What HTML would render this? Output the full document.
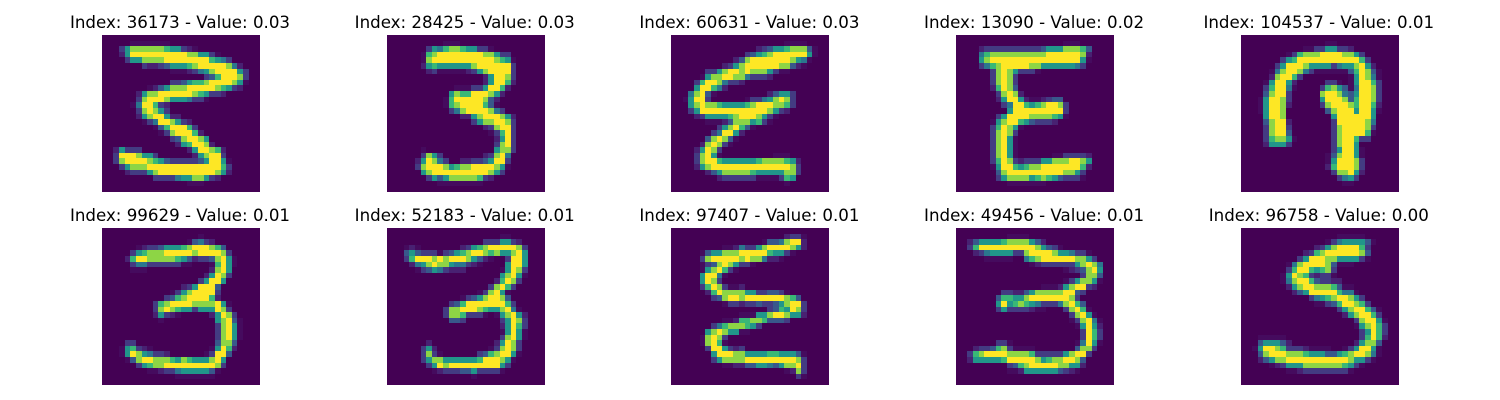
<!DOCTYPE html>
<html lang="en">
<head>
<meta charset="utf-8">
<title>Top samples</title>
<style>
html,body{margin:0;padding:0;background:#fff;width:1500px;height:400px;overflow:hidden}
svg{display:block}
text{font-family:"DejaVu Sans",sans-serif;font-size:16.67px;fill:#000}
</style>
</head>
<body>
<svg id="chart" xmlns="http://www.w3.org/2000/svg" width="1500" height="400" viewBox="0 0 1500 400"></svg>
<script>
const sampleIndices = [36173,28425,60631,13090,104537,99629,52183,97407,49456,96758];
const sampleValues = [0.03,0.03,0.03,0.02,0.01,0.01,0.01,0.01,0.01,0.00];

const pixels36173 = [
[],
[0,0,0,0,0,1,1,1,1,1,1,1],
[0,0,0,3,6,8,8,8,8,8,8,7,6,6,3,2,1],
[0,0,0,2,6,9,9,9,9,9,9,9,9,9,9,8,8,6,6,3,1],
[0,0,0,0,3,6,6,8,8,8,8,9,9,9,9,9,9,9,9,7,6,5,3],
[0,0,0,0,0,0,0,3,2,2,3,4,6,6,6,7,8,9,9,9,9,9,8,5,2],
[0,0,0,0,0,0,0,0,0,0,0,0,1,1,1,2,3,5,6,8,9,9,9,9,6,3],
[0,0,0,0,0,0,0,0,0,0,0,0,0,0,0,0,0,0,3,4,7,9,9,9,8,3],
[0,0,0,0,0,0,0,0,0,0,0,0,3,3,4,6,7,7,8,9,9,9,9,8,6,1],
[0,0,0,0,0,0,0,0,1,2,4,6,8,8,8,9,9,9,9,9,8,7,6,3,2],
[0,0,0,0,0,0,2,6,8,8,9,9,9,9,9,9,8,7,6,3,3,2],
[0,0,0,0,0,0,3,8,9,9,9,8,6,6,6,5,3,3,1],
[0,0,0,0,0,1,5,9,9,7,3,2],
[0,0,0,0,0,0,3,8,9,8,6,3],
[0,0,0,0,0,0,2,6,8,9,9,6,2,2],
[0,0,0,0,0,0,0,1,3,5,9,9,8,6,3,2],
[0,0,0,0,0,0,0,0,0,1,4,7,9,9,9,7,3],
[0,0,0,0,0,0,0,0,0,0,1,3,8,9,9,9,7,2],
[0,0,0,0,0,0,0,0,0,0,0,0,3,4,8,9,9,8,6],
[0,0,0,0,0,0,0,0,0,0,0,0,0,2,6,7,9,9,8,2],
[0,0,2,6,3,3,3,0,0,0,0,0,0,0,0,2,6,9,9,8,7,2],
[0,0,3,9,9,9,8,6,6,3,0,0,0,0,0,0,2,6,8,9,9,3],
[0,0,3,8,9,9,9,9,8,7,6,4,3,3,3,3,3,4,6,9,9,6,1],
[0,0,0,3,6,8,8,8,9,9,9,9,9,9,9,9,9,9,9,9,9,7,3],
[0,0,0,0,2,3,3,3,6,8,9,9,9,9,9,9,9,9,9,9,8,6,2],
[0,0,0,0,0,0,0,0,0,3,3,3,3,5,6,6,8,8,6,3,2],
[0,0,0,0,0,0,0,0,0,0,0,0,0,0,0,1,1,1],
[]
];
const pixels28425 = [
[],
[0,0,0,0,0,0,0,0,0,0,1,1,1],
[0,0,0,0,0,0,0,3,6,5,7,8,8,7,6,6,3,3,1],
[0,0,0,0,0,0,1,7,8,9,9,9,9,9,9,9,9,8,8,6,3,3],
[0,0,0,0,0,0,1,8,9,9,9,9,9,9,9,9,9,9,9,8,7,6,1],
[0,0,0,0,0,0,2,6,7,6,6,6,6,6,6,8,9,9,9,9,9,9,3],
[0,0,0,0,0,0,0,2,3,1,1,1,1,1,2,3,6,8,9,9,9,9,3],
[0,0,0,0,0,0,0,0,0,0,0,0,0,0,0,0,0,2,6,9,9,8,3],
[0,0,0,0,0,0,0,0,0,0,0,0,0,0,0,0,0,2,6,9,9,7,2],
[0,0,0,0,0,0,0,0,0,0,0,0,1,1,1,3,3,6,9,9,7,2],
[0,0,0,0,0,0,0,0,0,0,0,6,8,7,7,9,9,9,8,6,2],
[0,0,0,0,0,0,0,0,0,0,1,7,9,9,9,9,9,8,4,2],
[0,0,0,0,0,0,0,0,0,0,1,7,8,9,9,9,9,7,4,1],
[0,0,0,0,0,0,0,0,0,0,0,3,5,8,9,9,9,9,8,5,3],
[0,0,0,0,0,0,0,0,0,0,0,0,0,2,2,6,8,9,9,9,8,6,2],
[0,0,0,0,0,0,0,0,0,0,0,0,0,0,0,3,6,8,8,9,9,8,3],
[0,0,0,0,0,0,0,0,0,0,0,0,0,0,0,0,0,2,3,8,9,9,3],
[0,0,0,0,0,0,0,0,0,0,0,0,0,0,0,0,0,0,1,3,7,9,3],
[0,0,0,0,0,0,0,0,0,0,0,0,0,0,0,0,0,0,0,2,6,9,3],
[0,0,0,0,0,0,0,0,0,0,0,0,0,0,0,0,0,0,0,3,8,9,3],
[0,0,0,0,0,0,1,0,0,0,0,0,0,0,0,0,0,0,0,6,8,8,3],
[0,0,0,0,0,0,3,8,6,3,0,0,0,0,0,0,0,2,3,8,9,5],
[0,0,0,0,0,2,6,9,8,5,3,0,0,2,2,3,3,4,6,9,9,3],
[0,0,0,0,0,3,8,9,9,9,8,6,7,8,8,9,9,9,9,8,6,1],
[0,0,0,0,0,0,6,8,9,9,9,9,9,9,9,9,9,9,8,6,3],
[0,0,0,0,0,0,0,3,6,4,6,8,8,8,8,8,7,3,2],
[0,0,0,0,0,0,0,0,0,1,1,1,1,1,1,1,1],
[]
];
const pixels60631 = [
[],
[0,0,0,0,0,0,0,0,0,0,0,0,0,0,0,0,0,0,0,0,1,1,1,1],
[0,0,0,0,0,0,0,0,0,0,0,0,0,0,0,2,3,4,6,6,7,8,8,8,4,1],
[0,0,0,0,0,0,0,0,0,0,0,0,0,3,4,6,7,8,9,9,9,9,9,9,6,1],
[0,0,0,0,0,0,0,0,0,0,0,2,4,8,9,9,9,9,9,9,9,8,6,5,1],
[0,0,0,0,0,0,0,0,0,2,3,6,8,9,9,9,9,9,9,8,8,4,2,1],
[0,0,0,0,0,0,3,3,6,8,9,9,8,9,8,8,8,6,3,1,1],
[0,0,0,0,0,1,6,8,8,9,9,8,8,5,3,3,3,2],
[0,0,0,0,3,7,9,9,8,5,3,3,2],
[0,0,0,0,6,9,9,7,5,2],
[0,0,0,5,8,9,4,1,0,0,0,0,0,0,0,0,0,2,4,6,6,3],
[0,0,1,6,9,9,3,0,0,0,0,0,0,1,3,3,5,6,8,9,8,3],
[0,0,0,6,8,9,8,8,7,6,6,6,6,7,8,9,9,9,8,8,7,3],
[0,0,0,3,6,9,9,9,9,9,9,9,9,9,9,9,9,8,6,3,2],
[0,0,0,0,2,3,6,6,6,6,7,8,9,9,9,8,6,3,1],
[0,0,0,0,0,0,1,1,1,2,4,8,8,8,6,7,3,1],
[0,0,0,0,0,0,0,0,3,6,8,9,7,4,1],
[0,0,0,0,0,0,0,3,5,9,9,6,2],
[0,0,0,0,0,0,4,8,9,8,4,1],
[0,0,0,0,0,2,8,9,8,3,1],
[0,0,0,0,2,6,9,8,3],
[0,0,0,0,3,8,9,6,1,0,0,0,0,0,0,0,0,0,1,1,1],
[0,0,0,0,3,8,9,9,7,6,6,6,6,6,6,7,8,8,8,8,7,6,2],
[0,0,0,0,2,6,8,9,9,9,9,9,9,9,9,9,9,9,9,9,9,8,3],
[0,0,0,0,0,0,2,4,6,8,8,8,8,8,7,6,6,6,6,6,8,8,3],
[0,0,0,0,0,0,0,0,2,3,3,3,3,3,3,1,1,1,1,3,7,6],
[0,0,0,0,0,0,0,0,0,0,0,0,0,0,0,0,0,0,0,0,1],
[]
];
const pixels13090 = [
[],
[0,0,0,0,0,0,0,0,0,0,0,0,0,0,0,0,0,0,0,1,1,1],
[0,0,0,0,2,3,3,3,3,3,3,3,3,3,3,4,6,6,6,8,8,8,7,4],
[0,0,0,0,5,7,8,8,8,8,8,8,8,8,8,8,9,9,9,9,9,9,8,2],
[0,0,0,0,6,8,9,9,9,9,9,9,9,9,9,9,9,9,9,9,9,9,6,1],
[0,0,0,0,3,5,7,8,9,9,9,9,9,8,8,6,6,6,6,6,6,5,3],
[0,0,0,0,0,0,3,8,9,8,6,3,3,3,1],
[0,0,0,0,0,0,3,8,9,8,3],
[0,0,0,0,0,0,3,8,9,8,3],
[0,0,0,0,0,0,2,7,9,8,4],
[0,0,0,0,0,0,0,3,8,9,8,2],
[0,0,0,0,0,0,0,2,6,9,9,6,2,1,1,2,3,4,4],
[0,0,0,0,0,0,0,0,3,5,9,9,7,6,7,8,9,9,8,3],
[0,0,0,0,0,0,0,0,0,6,9,9,9,9,9,9,9,9,9,3],
[0,0,0,0,0,0,0,3,6,9,9,9,9,8,8,8,8,7,6,1],
[0,0,0,0,0,0,1,6,8,9,9,7,6,4,3,3,3,2],
[0,0,0,0,0,0,3,7,9,8,6,1],
[0,0,0,0,0,0,3,8,9,8,3],
[0,0,0,0,0,0,3,8,9,6,1],
[0,0,0,0,0,0,3,8,9,6,1],
[0,0,0,0,0,0,3,8,9,6,1],
[0,0,0,0,0,0,3,8,9,6,1,0,0,0,0,0,0,1,1,3,3,3,3,2],
[0,0,0,0,0,0,3,7,9,8,3,2,3,3,3,6,6,8,8,8,9,9,8,6],
[0,0,0,0,0,0,1,6,9,9,7,6,7,8,8,9,9,9,9,9,9,9,7,2],
[0,0,0,0,0,0,0,4,8,9,9,9,9,9,9,9,9,9,9,8,8,6,3],
[0,0,0,0,0,0,0,3,6,8,8,8,8,6,7,8,7,6,4,3,3,3,1],
[0,0,0,0,0,0,0,0,0,1,1,1,1,1,1,1],
[]
];
const pixels104537 = [
[],
[0,0,0,0,0,0,0,0,0,0,0,0,0,0,0,1,1],
[0,0,0,0,0,0,0,0,0,0,0,1,1,3,3,6,6,3,3,2],
[0,0,0,0,0,0,0,0,1,3,7,8,8,8,9,9,9,9,8,8,6,3],
[0,0,0,0,0,0,0,3,6,7,9,9,9,9,9,9,9,9,9,9,9,7,3],
[0,0,0,0,0,0,3,6,9,9,9,8,6,6,6,6,3,5,6,6,8,9,6,2],
[0,0,0,0,0,1,5,8,9,9,8,5,3,1,1,1,1,1,1,4,7,9,8,4,1],
[0,0,0,0,0,2,8,9,9,7,3,0,0,0,0,0,0,0,0,1,6,9,8,5,1],
[0,0,0,0,1,6,9,9,6,2,0,0,0,0,0,3,3,1,0,1,6,9,9,7,3],
[0,0,0,0,3,7,9,9,5,1,0,0,0,0,3,7,8,6,4,1,5,9,9,8,3],
[0,0,0,0,4,8,9,9,3,0,0,0,0,0,8,9,9,8,5,4,6,9,9,8,3],
[0,0,0,1,6,9,9,8,3,0,0,0,0,0,6,9,9,9,8,4,7,9,9,8,3],
[0,0,0,1,6,9,9,8,2,0,0,0,0,0,3,8,9,9,9,8,7,9,9,7,2],
[0,0,0,1,6,9,9,8,0,0,0,0,0,0,0,4,8,9,9,9,6,9,9,6,1],
[0,0,0,0,6,9,9,8,0,0,0,0,0,0,0,0,6,9,9,9,9,9,9,6],
[0,0,0,0,4,8,9,9,2,0,0,0,0,0,0,0,3,9,9,9,9,9,8,5],
[0,0,0,0,3,8,9,9,3,0,0,0,0,0,0,0,3,8,9,9,9,9,8,3],
[0,0,0,0,3,8,9,9,4,0,0,0,0,0,0,0,3,8,9,9,9,9,7,1],
[0,0,0,0,3,7,8,8,6,1,0,0,0,0,0,0,3,8,9,9,7,3,3],
[0,0,0,0,2,6,6,6,3,0,0,0,0,0,0,0,3,8,9,9,6],
[0,0,0,0,0,0,0,0,0,0,0,0,0,0,0,0,3,6,9,9,6,1],
[0,0,0,0,0,0,0,0,0,0,0,0,0,0,0,1,4,8,9,9,6,1],
[0,0,0,0,0,0,0,0,0,0,0,0,0,0,0,1,6,9,9,9,8,3],
[0,0,0,0,0,0,0,0,0,0,0,0,0,0,0,2,7,9,9,9,8,3],
[0,0,0,0,0,0,0,0,0,0,0,0,0,0,0,0,3,8,8,9,6,2],
[0,0,0,0,0,0,0,0,0,0,0,0,0,0,0,0,0,3,5,6,3],
[0,0,0,0,0,0,0,0,0,0,0,0,0,0,0,0,0,0,1,1],
[]
];
const pixels99629 = [
[],
[0,0,0,0,0,0,0,0,0,0,0,0,0,0,0,0,0,1],
[0,0,0,0,0,0,0,0,0,0,0,0,0,0,0,1,4,5,3,2],
[0,0,0,0,0,0,1,2,3,3,4,6,6,6,7,8,9,9,9,8,7,4],
[0,0,0,0,0,3,6,7,8,8,8,9,9,9,9,9,8,9,9,9,9,8,3],
[0,0,0,0,2,7,9,9,8,8,8,8,8,7,6,4,2,3,3,4,8,9,6,1],
[0,0,0,0,0,3,5,5,3,3,3,3,3,3,1,1,0,0,0,1,7,9,6,1],
[0,0,0,0,0,1,1,1,0,0,0,0,0,0,0,0,0,0,0,2,8,9,6],
[0,0,0,0,0,0,0,0,0,0,0,0,0,0,0,0,0,0,2,6,9,8,3],
[0,0,0,0,0,0,0,0,0,0,0,0,0,0,0,0,0,3,6,9,9,6],
[0,0,0,0,0,0,0,0,0,0,0,0,0,0,2,3,6,9,9,9,4],
[0,0,0,0,0,0,0,0,0,0,0,0,1,3,6,8,9,9,9,9,3],
[0,0,0,0,0,0,0,0,0,0,0,3,4,7,8,9,9,9,9,7,2],
[0,0,0,0,0,0,0,0,0,3,7,8,9,9,9,9,8,8,8,8,9,6,1],
[0,0,0,0,0,0,0,0,0,3,8,9,8,7,6,6,3,6,6,6,9,8,3],
[0,0,0,0,0,0,0,0,0,2,6,3,2,1,0,0,0,0,0,2,6,9,8,3],
[0,0,0,0,0,0,0,0,0,0,1,0,0,0,0,0,0,0,0,0,6,8,9,4,1],
[0,0,0,0,0,0,0,0,0,0,0,0,0,0,0,0,0,0,0,0,3,8,9,6,1],
[0,0,0,0,0,0,0,0,0,0,0,0,0,0,0,0,0,0,0,0,3,8,9,6,1],
[0,0,0,0,0,0,0,0,0,0,0,0,0,0,0,0,0,0,0,0,3,8,9,6,1],
[0,0,0,0,3,3,0,0,0,0,0,0,0,0,0,0,0,0,0,0,4,8,8,4],
[0,0,0,1,6,7,3,2,1,0,0,0,0,0,0,0,0,0,0,1,6,9,7,2],
[0,0,0,1,6,9,8,6,5,3,3,2,0,0,0,0,0,0,1,3,9,9,4],
[0,0,0,0,1,4,8,9,9,8,8,8,7,6,8,7,6,6,6,8,9,6],
[0,0,0,0,0,0,3,6,7,8,8,9,9,9,9,9,9,9,9,9,8,3],
[0,0,0,0,0,0,0,0,1,1,2,3,3,5,6,6,6,6,6,4,1],
[0,0,0,0,0,0,0,0,0,0,0,0,0,1,1,1,1,1,1,1],
[]
];
const pixels52183 = [
[],
[0,0,0,0,0,0,0,0,0,0,0,0,0,0,0,0,0,0,0,0,1,1],
[0,0,0,0,0,0,0,0,0,0,0,0,0,0,0,0,0,3,3,3,6,6,3,2],
[0,0,0,1,2,1,0,0,0,0,0,0,0,2,3,6,7,8,9,9,9,9,9,8,3],
[0,0,0,4,6,4,3,3,3,1,3,4,6,7,8,9,9,8,7,8,6,6,8,9,6],
[0,0,0,3,7,9,9,9,8,9,8,9,9,9,8,6,4,2,1,0,0,3,9,9,6],
[0,0,0,0,2,5,6,8,9,8,8,6,5,5,3,2,1,0,0,0,0,6,9,9,6],
[0,0,0,0,0,1,3,4,6,5,3,2,2,2,0,0,0,0,0,0,1,6,9,8,3],
[0,0,0,0,0,0,0,0,0,0,0,0,0,0,0,0,0,0,0,0,6,8,9,6,1],
[0,0,0,0,0,0,0,0,0,0,0,0,0,0,0,0,0,0,0,2,7,9,8,3],
[0,0,0,0,0,0,0,0,0,0,0,0,0,0,0,0,0,0,3,8,9,7,3],
[0,0,0,0,0,0,0,0,0,0,0,0,0,0,0,0,1,3,8,9,6,1],
[0,0,0,0,0,0,0,0,0,0,0,0,0,1,3,4,6,8,9,9,8,4],
[0,0,0,0,0,0,0,0,0,0,0,3,4,7,9,9,9,9,9,9,9,7,3],
[0,0,0,0,0,0,0,0,0,0,3,8,8,9,9,9,8,7,6,6,8,9,5,1],
[0,0,0,0,0,0,0,0,0,0,3,8,8,7,3,3,3,1,0,1,6,8,9,6,2],
[0,0,0,0,0,0,0,0,0,0,0,4,4,3,0,0,0,0,0,0,3,6,9,8,3],
[0,0,0,0,0,0,0,0,0,0,0,0,0,0,0,0,0,0,0,0,2,6,9,7,3],
[0,0,0,0,0,0,0,0,0,0,0,0,0,0,0,0,0,0,0,0,1,6,9,6,1],
[0,0,0,0,0,0,0,0,0,0,0,0,0,0,0,0,0,0,0,0,3,8,9,6,1],
[0,0,0,0,0,0,0,2,0,0,0,0,0,0,0,0,0,0,0,2,6,9,8,3],
[0,0,0,0,0,0,3,6,2,0,0,0,0,0,0,0,0,0,1,3,8,9,8,3],
[0,0,0,0,0,0,3,8,3,1,0,0,0,0,0,0,3,4,7,8,9,9,6,1],
[0,0,0,0,0,0,3,6,8,8,6,6,6,6,6,6,7,9,9,9,8,6,1],
[0,0,0,0,0,0,0,3,6,9,8,9,9,9,9,9,9,9,9,9,6,3],
[0,0,0,0,0,0,0,0,1,2,3,3,3,4,4,6,3,3,3,3,1],
[0,0,0,0,0,0,0,0,0,0,0,0,0,0,0,1],
[]
];
const pixels97407 = [
[],
[0,0,0,0,0,0,0,0,0,0,0,0,0,0,0,0,0,0,0,0,2,3,3,1],
[0,0,0,0,0,0,0,0,0,0,0,0,0,0,0,0,1,4,4,5,8,9,9,2],
[0,0,0,0,0,0,0,0,0,1,1,2,5,3,3,6,8,9,9,9,9,8,6,2],
[0,0,0,0,0,1,4,6,6,8,8,8,9,9,9,9,9,7,6,6,3,1],
[0,0,0,0,0,3,8,9,9,9,9,9,8,9,8,8,5,2,2,1],
[0,0,0,0,0,1,3,4,8,9,8,6,3,3,1],
[0,0,0,0,0,1,6,8,9,7,3,1],
[0,0,0,0,0,6,9,9,5,1],
[0,0,0,0,0,6,9,8,3],
[0,0,0,0,0,3,7,9,8,3,1,1,2],
[0,0,0,0,0,0,2,7,9,8,8,8,8,6,6,3,3,4,4,3,1],
[0,0,0,0,0,0,0,3,4,8,9,9,8,9,9,9,9,9,9,9,8,7,4],
[0,0,0,0,0,0,0,0,0,1,3,3,2,3,3,4,3,3,4,6,8,9,9,3],
[0,0,0,0,0,0,0,0,0,0,0,0,0,0,0,0,0,3,4,7,6,9,8,3],
[0,0,0,0,0,0,0,0,0,0,0,0,1,1,1,6,6,8,9,9,8,6,6,2],
[0,0,0,0,0,0,0,0,0,1,1,2,7,7,8,8,7,4,4,4,3],
[0,0,0,0,0,0,0,3,5,7,8,8,8,7,6,3],
[0,0,0,0,0,0,6,8,9,8,6,6,1,1],
[0,0,0,0,0,1,8,9,8,3],
[0,0,0,0,0,1,8,9,7,1],
[0,0,0,0,0,0,3,9,9,6,3,2,3],
[0,0,0,0,0,0,0,6,9,9,9,8,8,6,6,6,6,7,7,6,6,6,4,1],
[0,0,0,0,0,0,0,3,6,8,8,8,8,9,9,9,9,9,9,9,9,9,8,3],
[0,0,0,0,0,0,0,0,0,1,1,2,2,4,4,6,6,5,4,6,8,8,9,3],
[0,0,0,0,0,0,0,0,0,0,0,0,0,0,0,0,0,0,0,0,1,2,8,3],
[0,0,0,0,0,0,0,0,0,0,0,0,0,0,0,0,0,0,0,0,0,0,3,1],
[]
];
const pixels49456 = [
[],
[0,0,0,0,0,0,0,0,0,1,1,1,1],
[0,0,2,4,6,6,6,6,7,8,8,8,8,6,4,2],
[0,0,3,7,9,9,9,9,9,9,9,9,9,9,8,6,4,3,1],
[0,0,0,2,3,5,6,6,6,6,3,3,8,9,9,9,9,8,6,6,5,3,3,1],
[0,0,0,0,0,1,1,1,1,1,0,0,5,7,8,9,9,9,9,9,9,8,8,6,3],
[0,0,0,0,0,0,0,0,0,0,0,0,0,1,2,3,3,3,3,3,3,6,8,9,8,5],
[0,0,0,0,0,0,0,0,0,0,0,0,0,0,0,0,0,0,0,1,2,3,4,8,9,6],
[0,0,0,0,0,0,0,0,0,0,0,0,0,0,0,0,0,0,0,0,0,0,3,8,8,4],
[0,0,0,0,0,0,0,0,0,0,0,0,0,0,0,0,0,0,0,1,3,6,8,8,6,1],
[0,0,0,0,0,0,0,0,0,0,0,0,0,0,0,1,1,1,2,6,8,9,9,3,2],
[0,0,0,0,0,0,0,0,3,3,2,2,4,6,8,8,8,8,8,9,9,4,3],
[0,0,0,0,0,0,0,4,7,7,6,6,8,9,9,9,9,9,9,9,8,3],
[0,0,0,0,0,0,0,6,9,6,7,8,7,6,5,3,3,3,5,8,9,7,4],
[0,0,0,0,0,0,0,3,6,3,3,3,3,2,1,1,0,0,0,3,8,9,7,1],
[0,0,0,0,0,0,0,0,0,0,0,0,0,0,0,0,0,0,0,0,3,8,9,6,1],
[0,0,0,0,0,0,0,0,0,0,0,0,0,0,0,0,0,0,0,0,1,3,8,9,5,1],
[0,0,0,0,0,0,0,0,0,0,0,0,0,0,0,0,0,0,0,0,0,1,6,9,6,2],
[0,0,0,0,0,0,0,0,0,0,0,0,0,0,0,0,0,0,0,0,0,0,3,9,7,3],
[0,0,0,0,0,0,0,0,0,0,0,0,0,0,0,0,0,0,0,0,0,0,3,9,7,3],
[0,0,0,0,0,0,0,3,3,1,0,0,0,0,0,0,0,0,0,0,0,1,5,9,6,1],
[0,0,0,2,3,3,4,7,8,3,1,1,1,1,0,0,0,0,0,0,0,4,8,8,3],
[0,0,3,7,8,9,9,9,9,8,8,8,8,7,3,3,3,3,3,6,8,9,9,3],
[0,0,2,6,6,6,6,6,7,9,9,9,9,9,8,6,7,8,8,9,9,8,4],
[0,0,0,0,0,0,0,0,0,3,4,7,8,9,9,9,9,9,8,8,6,6,2],
[0,0,0,0,0,0,0,0,0,1,1,2,6,6,6,6,6,6,4,3,2,1],
[],
[]
];
const pixels96758 = [
[],
[0,0,0,0,0,0,0,0,0,0,0,0,0,0,0,0,0,1,1,1,1,1],
[0,0,0,0,0,0,0,0,0,0,0,0,0,0,0,1,3,5,6,6,6,6,4,1],
[0,0,0,0,0,0,0,0,0,0,0,0,0,2,3,6,8,9,9,9,9,7,3],
[0,0,0,0,0,0,0,0,0,0,0,2,3,7,8,9,9,9,9,9,9,8,4],
[0,0,0,0,0,0,0,0,0,0,3,6,9,9,9,8,8,6,6,6,6,3,1],
[0,0,0,0,0,0,0,0,1,5,8,9,9,9,9,8,4,1,1,1],
[0,0,0,0,0,0,0,0,3,7,9,9,7,6,7,8,3],
[0,0,0,0,0,0,0,1,6,9,8,7,3,2,3,3,1],
[0,0,0,0,0,0,0,1,5,8,9,9,7,4,3,3,2,2],
[0,0,0,0,0,0,0,0,2,6,8,9,9,8,8,8,7,4,1,1],
[0,0,0,0,0,0,0,0,0,2,4,6,9,9,9,9,9,7,5,5,1],
[0,0,0,0,0,0,0,0,0,0,0,0,3,5,6,7,8,9,9,8,6,3],
[0,0,0,0,0,0,0,0,0,0,0,0,0,1,1,3,4,7,9,9,8,7,3],
[0,0,0,0,0,0,0,0,0,0,0,0,0,0,0,0,0,3,6,8,9,9,7,4,1],
[0,0,0,0,0,0,0,0,0,0,0,0,0,0,0,0,0,0,2,6,8,9,9,7,3],
[0,0,0,0,0,0,0,0,0,0,0,0,0,0,0,0,0,0,0,0,3,8,9,9,6,1],
[0,0,0,0,0,0,0,0,0,0,0,0,0,0,0,0,0,0,0,0,1,6,8,9,7,3],
[0,0,0,0,0,0,0,0,0,0,0,0,0,0,0,0,0,0,0,0,0,3,6,9,7,3],
[0,0,0,1,1,1,1,1,0,0,0,0,0,0,0,0,0,0,0,0,0,3,7,9,7,2],
[0,0,0,4,6,6,6,4,2,0,0,0,0,0,0,0,0,0,0,0,2,6,8,8,4],
[0,0,1,6,9,9,8,7,3,3,3,2,1,1,1,1,0,0,1,3,6,9,9,6,1],
[0,0,0,4,8,9,9,9,8,8,8,7,6,6,6,4,4,6,7,8,9,9,8,5,1],
[0,0,0,2,4,6,8,8,9,9,9,9,9,9,9,9,9,9,9,8,6,6,3,1],
[0,0,0,0,0,1,2,3,6,6,6,8,8,8,8,8,8,8,7,6,3,1],
[0,0,0,0,0,0,0,0,1,1,2,3,3,3,3,3,3,3,3,1],
[],
[]
];
const sampleImages = [pixels36173,pixels28425,pixels60631,pixels13090,pixels104537,pixels99629,pixels52183,pixels97407,pixels49456,pixels96758];

const SVG_NS = 'http://www.w3.org/2000/svg';
const chart = document.getElementById('chart');
const gridSize = 28;
const panelWidth = 158;
const panelHeight = 157;
const viridisStops = ['#440154','#482475','#414487','#355f8d','#2a788e','#21918c','#22a884','#44bf70','#7ad151','#bddf26','#fde725'];

function panelLeft(column) { return 102 + 284.7 * column; }
function panelTop(row) { return 35 + 193 * row; }
function cellX(column, c) { return panelLeft(column) + c * panelWidth / gridSize; }
function cellY(row, r) { return panelTop(row) + r * panelHeight / gridSize; }
function hexToRgb(h) { return [1,3,5].map(function (i) { return parseInt(h.substr(i, 2), 16); }); }
function shade(v) {
  const t = Math.pow(Math.max(0, Math.min(9, v)) / 9, 1.6) * (viridisStops.length - 1);
  const i = Math.min(Math.floor(t), viridisStops.length - 2);
  const a = hexToRgb(viridisStops[i]);
  const b = hexToRgb(viridisStops[i + 1]);
  const f = t - i;
  return 'rgb(' + a.map(function (x, k) { return Math.round(x + (b[k] - x) * f); }).join(',') + ')';
}

sampleImages.forEach(function (rows, n) {
  const column = n % 5;
  const row = Math.floor(n / 5);
  const group = document.createElementNS(SVG_NS, 'g');
  
  
  group.setAttribute('shape-rendering', 'crispEdges');
  for (let r = 0; r < gridSize; r++) {
    for (let c = 0; c < gridSize; c++) {
      const v = (rows[r] && rows[r][c]) || 0;
      const x0 = Math.round(cellX(column, c));
      const x1 = Math.round(cellX(column, c + 1));
      const y0 = Math.round(cellY(row, r));
      const y1 = Math.round(cellY(row, r + 1));
      const cell = document.createElementNS(SVG_NS, 'rect');
      cell.setAttribute('x', x0);
      cell.setAttribute('y', y0);
      cell.setAttribute('width', x1 - x0);
      cell.setAttribute('height', y1 - y0);
      cell.setAttribute('fill', shade(v));
      
      
      group.appendChild(cell);
    }
  }
  chart.appendChild(group);
  const title = document.createElementNS(SVG_NS, 'text');
  title.setAttribute('x', panelLeft(column) + panelWidth / 2 - 1);
  title.setAttribute('y', panelTop(row) - 7);
  title.setAttribute('text-anchor', 'middle');
  
  
  title.textContent = 'Index: ' + sampleIndices[n] + ' - Value: ' + sampleValues[n].toFixed(2);
  chart.appendChild(title);
});
</script>
</body>
</html>
